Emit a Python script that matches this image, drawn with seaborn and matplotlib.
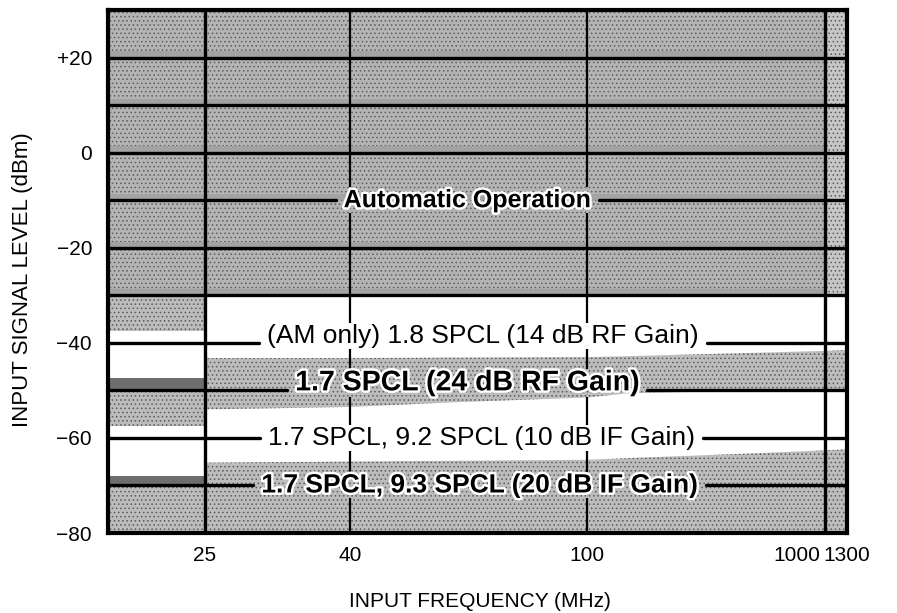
import numpy as np
import pandas as pd
import matplotlib
matplotlib.use("Agg")
import matplotlib.pyplot as plt
import matplotlib.patheffects as pe
import matplotlib.transforms as mtransforms
from matplotlib.ticker import NullLocator
import seaborn as sns

# ---------------------------------------------------------------- data
freq_ticks = [25, 40, 100, 1000, 1300]
freq_tick_labels = ["25", "40", "100", "1000", "1300"]
level_ticks = [20, 0, -20, -40, -60, -80]
level_tick_labels = ["+20", "0", "\u221220", "\u221240", "\u221260", "\u221280"]

freq_min, freq_max = 20, 1300
level_min, level_max = -80, 30

# horizontal and vertical rules of the chart grid
rule_levels = [20, 10, 0, -10, -20, -30, -40, -50, -60, -70]
rule_freqs = [25, 40, 100, 1000]

# automatic operation: whole band
auto_low, auto_high = -30, 30

# below 25 MHz: shaded level bands (low, high)
lowband_light = [(-37.5, -30), (-57.5, -50), (-80, -70)]
lowband_dark = [(-50, -47.5), (-70, -68)]

# 25-1300 MHz: 24 dB RF gain band
rf_freq = [25, 40, 60, 100, 150, 300, 600, 1000, 1300]
rf_upper = [-43.2, -43.2, -43.1, -43.0, -42.8, -42.4, -42.0, -41.7, -41.5]
rf_lower = [-54.0, -53.5, -52.5, -51.5, -50.6, -50.3, -50.3, -50.3, -50.3]

# 25-1300 MHz: 20 dB IF gain band (top edge; runs down to -80 dBm)
if_freq = [25, 100, 200, 530, 1000, 1300]
if_upper = [-65.2, -64.6, -64.0, -63.2, -62.6, -62.4]

mode_labels = [
    "Automatic Operation",
    "(AM only) 1.8 SPCL (14 dB RF Gain)",
    "1.7 SPCL (24 dB RF Gain)",
    "1.7 SPCL, 9.2 SPCL (10 dB IF Gain)",
    "1.7 SPCL, 9.3 SPCL (20 dB IF Gain)",
]
mode_levels = [-10, -40, -50, -60, -70]

# ---------------------------------------------------------------- style
sns.set_theme(style="white")
plt.rcParams["font.family"] = ["Liberation Sans", "DejaVu Sans"]
plt.rcParams["hatch.linewidth"] = 0.6

GRAY_UP = "#b4b4b4"
GRAY_UP_EDGE = "#c6c6c6"
GRAY_LOW = "#bcbcbc"
GRAY_DARK = "#6e6e6e"
GRAY_SHADE = "#a3a3a3"
STIPPLE = "#5c5c5c"

label_x = [0.486, 0.507, 0.486, 0.505, 0.503]
label_va = ["center", "baseline", "baseline", "center", "center"]
label_bold = [True, False, True, False, True]
label_size = [18, 19, 20.5, 19, 19]

# piecewise logarithmic frequency axis
scale_logf = np.log10([20, 25, 40, 100, 1000, 1300])
scale_pos = np.array([0, 97, 242, 479, 717, 739]) / 739.0


def freq_forward(f):
    f = np.maximum(np.asarray(f, dtype=float), 1e-6)
    return np.interp(np.log10(f), scale_logf, scale_pos)


def freq_inverse(p):
    return 10 ** np.interp(np.asarray(p, dtype=float), scale_pos, scale_logf)


fig = plt.figure(figsize=(8.97, 6.13), dpi=100)
ax = fig.add_axes([0.1204, 0.1305, 0.8239, 0.8532])
ax.set_xscale("function", functions=(freq_forward, freq_inverse))
ax.set_xlim(freq_min, freq_max)
ax.set_ylim(level_min, level_max)


def shade(x, lo, hi, color, hatch=True):
    ax.fill_between(x, lo, hi, facecolor=color, edgecolor=STIPPLE if hatch else color,
                    hatch="...." if hatch else None, lw=0, zorder=1)


# ---------------------------------------------------------------- shaded regions
shade([freq_min, 1000], auto_low, auto_high, GRAY_UP)
shade([1000, freq_max], auto_low, auto_high, GRAY_UP_EDGE)
for lv in rule_levels[:6]:
    ax.fill_between([freq_min, 1000], lv, lv + 1.3, color=GRAY_SHADE, lw=0, zorder=1)
for lo, hi in lowband_light:
    shade([freq_min, 25], lo, hi, GRAY_LOW)
for lo, hi in lowband_dark:
    shade([freq_min, 25], lo, hi, GRAY_DARK, hatch=False)
shade(rf_freq, rf_lower, rf_upper, GRAY_LOW)
shade(if_freq, level_min, if_upper, GRAY_LOW)

# ---------------------------------------------------------------- mode labels
blend = mtransforms.blended_transform_factory(ax.transAxes, ax.transData)
texts = []
for text, lvl, xf, va, bold, fs in zip(mode_labels, mode_levels, label_x,
                                       label_va, label_bold, label_size):
    effects = [pe.withStroke(linewidth=3.5, foreground="white")] if bold else None
    texts.append(ax.text(xf, lvl, text, transform=blend, ha="center", va=va,
                         fontsize=fs, fontweight="bold" if bold else "normal",
                         color="black", path_effects=effects, zorder=3))

# ---------------------------------------------------------------- rules, broken around labels
fig.canvas.draw()
renderer = fig.canvas.get_renderer()
to_data = ax.transData.inverted()
gaps = []
for t in texts:
    bb = t.get_window_extent(renderer)
    (f0, l0), (f1, l1) = to_data.transform([(bb.x0 - 8, bb.y0 - 1), (bb.x1 + 8, bb.y1 + 1)])
    gaps.append((f0, f1, l0, l1))


def split(span, cuts):
    pieces = [span]
    for c0, c1 in cuts:
        nxt = []
        for a, b in pieces:
            if c1 <= a or c0 >= b:
                nxt.append((a, b))
            else:
                if c0 > a:
                    nxt.append((a, c0))
                if c1 < b:
                    nxt.append((c1, b))
        pieces = nxt
    return pieces


rows = []
seg = 0
for lv in rule_levels:
    cuts = [(f0, f1) for f0, f1, l0, l1 in gaps if l0 <= lv <= l1]
    for a, b in split((freq_min, freq_max), cuts):
        rows += [(a, lv, seg), (b, lv, seg)]
        seg += 1
rules = pd.DataFrame(rows, columns=["freq", "level", "rule"])
sns.lineplot(data=rules, x="freq", y="level", units="rule", estimator=None,
             color="black", linewidth=2.4, legend=False, ax=ax, zorder=2)

for fr in rule_freqs:
    cuts = [(l0, l1) for f0, f1, l0, l1 in gaps if f0 <= fr <= f1]
    for a, b in split((level_min, level_max), cuts):
        ax.plot([fr, fr], [a, b], color="black",
                lw=2.4 if fr in (25, 1000) else 1.6, zorder=2, solid_capstyle="butt")

# ---------------------------------------------------------------- axes
ax.set_xticks(freq_ticks, freq_tick_labels)
ax.xaxis.set_minor_locator(NullLocator())
ax.set_yticks(level_ticks, level_tick_labels)
ax.tick_params(axis="both", length=0, labelsize=15, colors="black")
ax.tick_params(axis="x", pad=9.5)
ax.tick_params(axis="y", pad=11.5)
lab1000 = ax.xaxis.get_major_ticks()[3].label1
lab1000.set_horizontalalignment("right")
lab1000.set_transform(lab1000.get_transform()
                      + mtransforms.ScaledTranslation(-0.05, 0, fig.dpi_scale_trans))

ax.set_xlabel("INPUT FREQUENCY (MHz)", fontsize=15, color="black")
ax.set_ylabel("INPUT SIGNAL LEVEL (dBm)", fontsize=16, color="black")
ax.xaxis.set_label_coords(0.5027, -0.1128)
ax.yaxis.set_label_coords(-0.1015, 0.484)

for s in ax.spines.values():
    s.set_visible(True)
    s.set_color("black")
    s.set_linewidth(3)
    s.set_zorder(5)

fig.savefig("out.png", dpi=100)
